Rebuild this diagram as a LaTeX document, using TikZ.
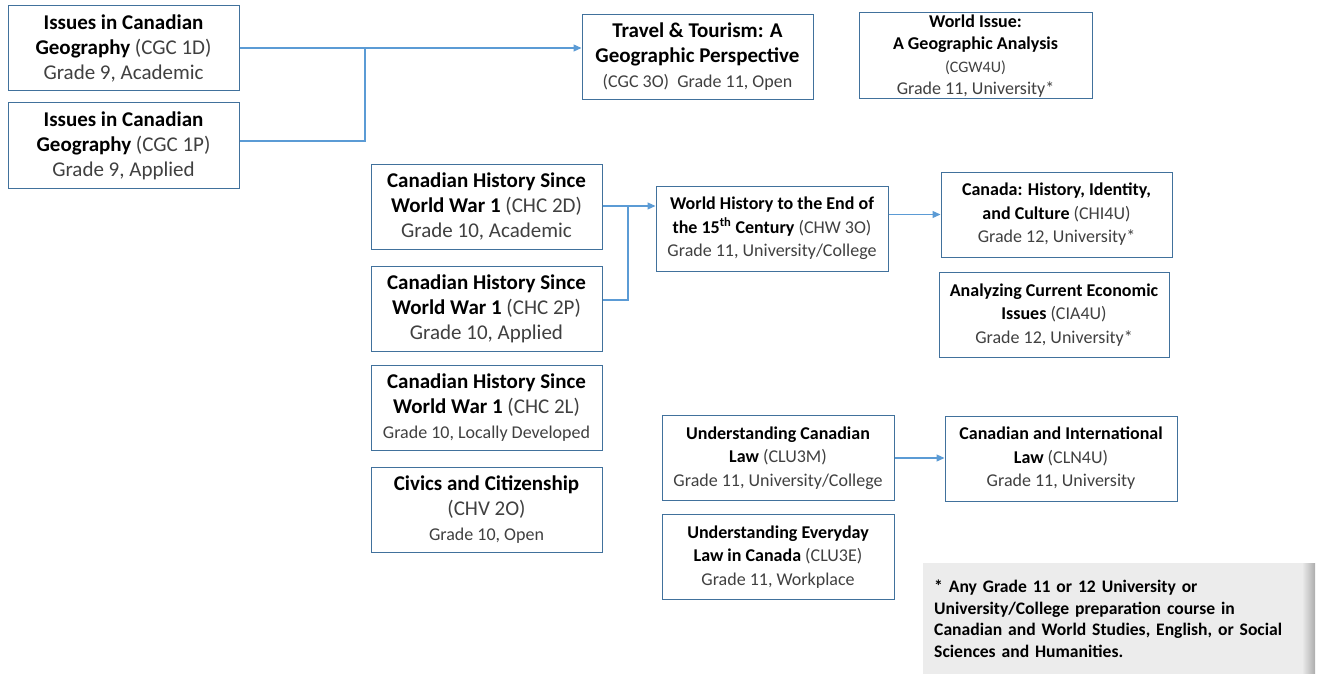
\documentclass[tikz,border=0pt]{standalone}
\usepackage{fontspec}
\setmainfont{Carlito}
\usepackage{xcolor}
\definecolor{boxblue}{RGB}{65,113,156}
\definecolor{linkblue}{RGB}{91,155,213}
\definecolor{txtgray}{RGB}{64,64,64}
\definecolor{notegray}{RGB}{236,236,236}
\usepackage{tikz}
\usetikzlibrary{arrows.meta,positioning,calc}

\newcommand{\rg}[1]{{\mdseries\color{txtgray}#1}}

\tikzset{
  course/.style={draw=boxblue, line width=1pt, fill=white, minimum width=231pt,
                 minimum height=85pt, align=center, inner sep=1pt, text=black},
  bigtxt/.style={font=\fontsize{21}{25}\selectfont\bfseries},
  smalltxt/.style={font=\fontsize{18}{23.5}\selectfont\bfseries},
  link/.style={draw=linkblue, line width=1.2pt},
  arr/.style={link, -{Triangle[length=8pt,width=7pt]}},
}

\begin{document}
\begin{tikzpicture}[x=1pt,y=-1pt]
  \useasboundingbox (0,0) rectangle (1317,674);

  % grade 9 geography
  \node (geoD) [course,bigtxt] at (123.5,48.5)
    {Issues in Canadian\\Geography \rg{(CGC 1D)}\\\rg{Grade 9, Academic}};
  \node (geoP) [course,bigtxt] at (123.5,145.5)
    {Issues in Canadian\\Geography \rg{(CGC 1P)}\\\rg{Grade 9, Applied}};

  % senior geography
  \node (travel) [course,bigtxt] at (697.5,57)
    {Travel \& Tourism: A\\Geographic Perspective\\{\fontsize{18}{23}\selectfont\rg{(CGC 3O)~~Grade 11, Open}}};
  \node (worldiss) [course,minimum width=233pt,minimum height=86pt,inner ysep=0pt,
                    font=\fontsize{18}{22.5}\selectfont\bfseries] at (975.5,56)
    {World Issue:\\A Geographic Analysis\\{\fontsize{16}{22.5}\selectfont\rg{(CGW4U)}}\\\rg{Grade 11, University*}};

  % grade 10 history and civics
  \node (chcD) [course,bigtxt] at (486.5,206.5)
    {Canadian History Since\\World War 1 \rg{(CHC 2D)}\\\rg{Grade 10, Academic}};
  \node (chcP) [course,bigtxt] at (486.5,309)
    {Canadian History Since\\World War 1 \rg{(CHC 2P)}\\\rg{Grade 10, Applied}};
  \node (chcL) [course,bigtxt] at (486.5,408)
    {Canadian History Since\\World War 1 \rg{(CHC 2L)}\\{\fontsize{18}{23}\selectfont\rg{Grade 10, Locally Developed}}};
  \node (civics) [course,bigtxt] at (486.5,510)
    {Civics and Citizenship\\\rg{(CHV 2O)}\\{\fontsize{18}{23}\selectfont\rg{Grade 10, Open}}};

  % grade 11 and 12 history
  \node (chw) [course,smalltxt,minimum width=232pt] at (772,228.5)
    {World History to the End of\\the 15\textsuperscript{th} Century \rg{(CHW 3O)}\\\rg{Grade 11, University/College}};
  \node (chi) [course,smalltxt] at (1056.5,214.5)
    {Canada: History, Identity,\\and Culture \rg{(CHI4U)}\\\rg{Grade 12, University*}};
  \node (cia) [course,smalltxt,minimum width=230pt] at (1054,315)
    {Analyzing Current Economic\\Issues \rg{(CIA4U)}\\\rg{Grade 12, University*}};

  % law
  \node (clum) [course,smalltxt,minimum width=232pt] at (778,458)
    {Understanding Canadian\\Law \rg{(CLU3M)}\\\rg{Grade 11, University/College}};
  \node (clue) [course,smalltxt,minimum width=232pt] at (778,557)
    {Understanding Everyday\\Law in Canada \rg{(CLU3E)}\\\rg{Grade 11, Workplace}};
  \node (cln) [course,smalltxt,minimum width=232pt] at (1061,458.5)
    {Canadian and International\\Law \rg{(CLN4U)}\\\rg{Grade 11, University}};

  % footnote
  \node (note) [anchor=north west, fill=notegray, minimum height=111pt,
                text width=366pt, inner xsep=11pt, align=left,
                font=\fontsize{17.6}{21.5}\selectfont\bfseries] at (923,563)
    {* Any Grade 11 or 12 University or\\University/College preparation course in\\Canadian and World Studies, English, or Social\\Sciences and Humanities.};
  \shade[left color=notegray, right color=gray!65] (1302,563) rectangle (1315,674);

  % connectors
  \coordinate (geoj) at (365,48);
  \coordinate (chcj) at (628,206);
  \draw[arr] (geoD.east |- geoj) -- (travel.west |- geoj);
  \draw[link] (geoP.east |- 0,141) -| (geoj);
  \draw[arr] (chcD.east |- chcj) -- (chw.west |- chcj);
  \draw[link] (chcP.east |- 0,300) -| (chcj);
  \draw[arr] (chw.east |- chi.west) -- (chi.west);
  \draw[arr] (clum.east) -- (clum.east -| cln.west);
\end{tikzpicture}
\end{document}
